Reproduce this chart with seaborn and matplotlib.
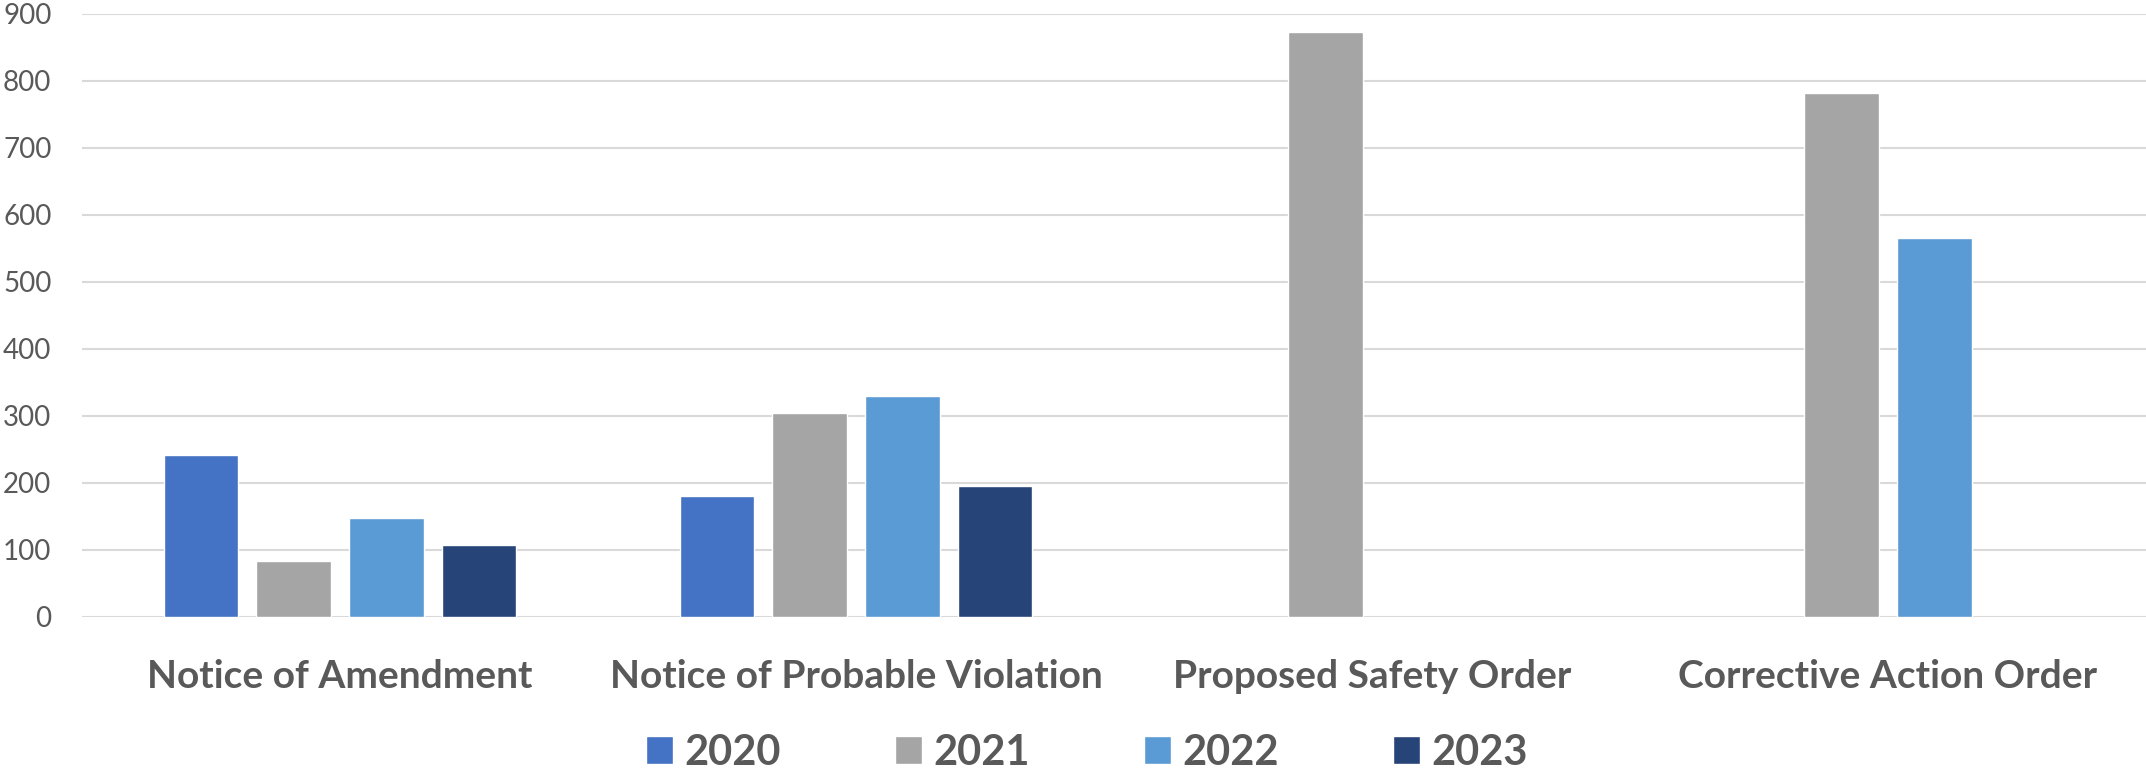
import numpy as np
import pandas as pd
import seaborn as sns
import matplotlib.pyplot as plt

categories = ["Notice of Amendment", "Notice of Probable Violation",
              "Proposed Safety Order", "Corrective Action Order"]
years = ["2020", "2021", "2022", "2023"]
v2020 = [241, 181, np.nan, np.nan]
v2021 = [83, 304, 872, 782]
v2022 = [148, 330, np.nan, 565]
v2023 = [107, 196, np.nan, np.nan]
colors = ["#4472C4", "#A5A5A5", "#5B9BD5", "#264478"]
yticks = list(range(0, 901, 100))

rows = []
for yr, vals in zip(years, [v2020, v2021, v2022, v2023]):
    for c, v in zip(categories, vals):
        rows.append({"category": c, "year": yr, "value": v})
df = pd.DataFrame(rows).dropna()

sns.set_theme(style="white")
plt.rcParams['font.family'] = ['Lato', 'DejaVu Sans']
TXT = "#595959"

fig = plt.figure(figsize=(21.46, 7.75), dpi=100)
ax = fig.add_axes([0.0382, 0.2039, 0.9618, 0.7784])
sns.barplot(data=df, x="category", y="value", hue="year", order=categories,
            hue_order=years, palette=colors, width=0.72, gap=0.2,
            saturation=1, errorbar=None, ax=ax)

ax.set_xlim(-0.5, 3.5)
ax.set_ylim(0, 900)
ax.set_yticks(yticks)
ax.set_xlabel("")
ax.set_ylabel("")
ax.grid(axis='y', color='#D9D9D9', lw=1.5)
ax.set_axisbelow(True)
for s in ax.spines.values():
    s.set_visible(False)
ax.tick_params(axis='y', labelsize=20, colors=TXT, pad=22, length=0)
ax.tick_params(axis='x', labelsize=28, colors=TXT, pad=30, length=0)
for t in ax.get_xticklabels():
    t.set_fontweight('bold')

handles, labels = ax.get_legend_handles_labels()
ax.get_legend().remove()
leg = fig.legend(handles, labels, loc='center', bbox_to_anchor=(1087 / 2146, 0.0285),
                 ncol=4, frameon=False, prop={'size': 30, 'weight': 'bold'},
                 handlelength=0.65, handleheight=0.65, handletextpad=0.28,
                 columnspacing=2.73, borderaxespad=0, borderpad=0)
for t in leg.get_texts():
    t.set_color(TXT)

fig.savefig("out.png", dpi=100)
